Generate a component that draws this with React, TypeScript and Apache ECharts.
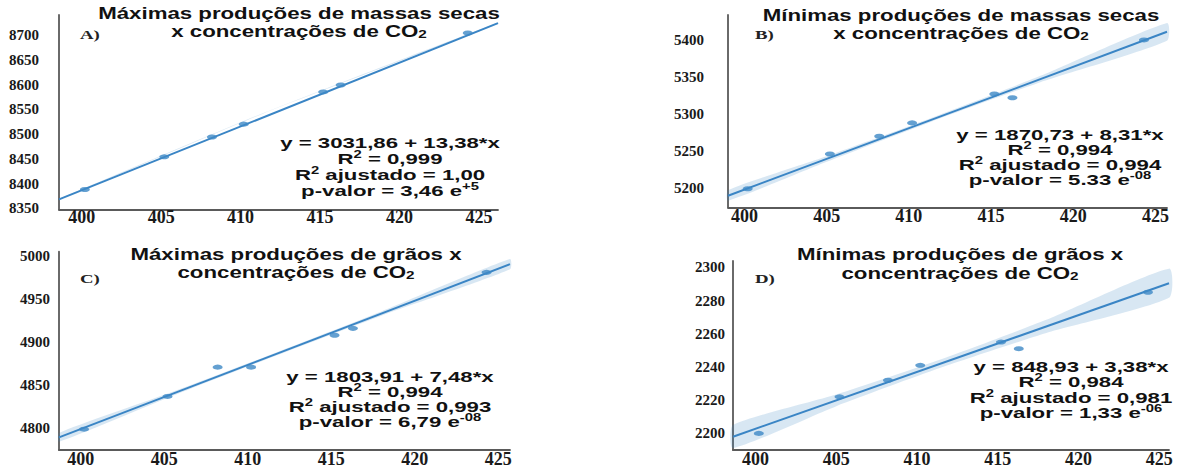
import React, { useEffect, useRef } from "react";
import * as echarts from "echarts";

// ---------- data ----------
const co2 = [400.2, 405.2, 408.2, 410.2, 415.2, 416.3, 424.3];

const massaSecaMax = [8388, 8454, 8494, 8520, 8585, 8599, 8704];
const massaSecaMin = [5199, 5246, 5270, 5288, 5327, 5322, 5400];
const graosMax = [4799, 4837, 4871, 4871, 4908, 4916, 4981];
const graosMin = [2200, 2222, 2232, 2241, 2255, 2251, 2285];

// fitted regression lines (end points)
const fitXA = [398.57, 426.2];
const fitYA = [8368, 8724];
const fitXB = [399.0, 425.7];
const fitYB = [5189.6, 5411];
const fitXC = [398.7, 425.7];
const fitYC = [4789.4, 4990.5];
const fitXD = [398.6, 425.6];
const fitYD = [2198, 2290.4];

// confidence bands
const bandXA = [398.57, 411.4, 426.2];
const bandLoA = [8367, 8541, 8722.5];
const bandHiA = [8369, 8542, 8725.5];
const bandXB = [399.0, 405, 411.4, 418, 425.7];
const bandLoB = [5183, 5235.5, 5290, 5343, 5399];
const bandHiB = [5197, 5243, 5295, 5351.5, 5423];
const bandXC = [398.7, 405, 411.4, 418, 425.7];
const bandLoC = [4784.5, 4833.8, 4882.2, 4930.7, 4984.5];
const bandHiC = [4794.5, 4838.8, 4885.8, 4935.7, 4996.5];
const bandXD = [398.6, 405, 411.4, 418, 425.6];
const bandLoD = [2191.2, 2216.4, 2239.3, 2260.4, 2281.6];
const bandHiD = [2205, 2223.4, 2244.3, 2268.4, 2299.2];

// texts ({sup|...} marks a superscript, {sub|...} a subscript)
const titlesA = ["Máximas produções de massas secas", "x concentrações de CO{sub|2}"];
const titlesB = ["Mínimas produções de massas secas", "x concentrações de CO{sub|2}"];
const titlesC = ["Máximas produções de grãos x", "concentrações de CO{sub|2}"];
const titlesD = ["Mínimas produções de grãos x", "concentrações de CO{sub|2}"];

const annA = ["y = 3031,86 + 13,38*x", "R{sup|2} = 0,999", "R{sup|2} ajustado = 1,00", "p-valor = 3,46 e{sup|+5}"];
const annB = ["y = 1870,73 + 8,31*x", "R{sup|2} = 0,994", "R{sup|2} ajustado = 0,994", "p-valor = 5.33 e{sup|-08}"];
const annC = ["y = 1803,91 + 7,48*x", "R{sup|2} = 0,994", "R{sup|2} ajustado = 0,993", "p-valor = 6,79 e{sup|-08}"];
const annD = ["y = 848,93 + 3,38*x", "R{sup|2} = 0,984", "R{sup|2} ajustado = 0,981", "p-valor = 1,33 e{sup|-06}"];

const letters = ["A)", "B)", "C)", "D)"];

// ---------- styles / layout ----------
const SANS = "Liberation Sans";
const SERIF = "Liberation Serif";
const LINE_COLOR = "#3a85c5";
const POINT_COLOR = "#3d88c6";
const BAND_COLOR = "rgba(58,133,197,0.2)";
const AXIS_COLOR = "#5a5a5a";

const panels = [
  {
    grid: { left: 59, top: 15, width: 439, height: 194.5 },
    x: [398.57, 426.2], y: [8347.6, 8740.4], yStep: 50, ySplit: 8,
    yMargin: 20, xMargin: -2,
    values: massaSecaMax, fitX: fitXA, fitY: fitYA, bx: bandXA, bl: bandLoA, bh: bandHiA,
    titles: titlesA, titleX: 299, titleY: [13.5, 31],
    ann: annA, annX: 390, annY: 143.3, annGap: 15.8,
    letterPos: [80, 35],
  },
  {
    grid: { left: 728, top: 15, width: 439, height: 192.3 },
    x: [399.0, 425.7], y: [5174, 5433.7], yStep: 50, ySplit: 5,
    yMargin: 24, xMargin: 0,
    values: massaSecaMin, fitX: fitXB, fitY: fitYB, bx: bandXB, bl: bandLoB, bh: bandHiB,
    titles: titlesB, titleX: 961, titleY: [15.5, 33],
    ann: annB, annX: 1060, annY: 135, annGap: 15,
    letterPos: [755, 35],
  },
  {
    grid: { left: 59, top: 251.7, width: 451, height: 201 },
    x: [398.7, 425.7], y: [4774.8, 5005], yStep: 50, ySplit: 5,
    yMargin: 9, xMargin: 0,
    values: graosMax, fitX: fitXC, fitY: fitYC, bx: bandXC, bl: bandLoC, bh: bandHiC,
    titles: titlesC, titleX: 296, titleY: [254.5, 272.2],
    ann: annC, annX: 390, annY: 376.7, annGap: 15,
    letterPos: [80, 279.3],
  },
  {
    grid: { left: 733, top: 261, width: 436, height: 190.7 },
    x: [398.6, 425.6], y: [2190, 2303.8], yStep: 20, ySplit: 6,
    yMargin: 8, xMargin: 0,
    values: graosMin, fitX: fitXD, fitY: fitYD, bx: bandXD, bl: bandLoD, bh: bandHiD,
    titles: titlesD, titleX: 960, titleY: [254.5, 272.8],
    ann: annD, annX: 1071, annY: 366.7, annGap: 15.5,
    letterPos: [755, 279.3],
  },
];

const isMultiple = (v: number, step: number) =>
  Math.abs(v / step - Math.round(v / step)) < 1e-6;

function richText(size: number) {
  const small = Math.round(size * 0.66);
  return {
    sup: {
      fontFamily: SANS,
      fontWeight: "bold",
      fontSize: small,
      lineHeight: small,
      verticalAlign: "top",
      fill: "#111",
    },
    sub: {
      fontFamily: SANS,
      fontWeight: "bold",
      fontSize: small,
      lineHeight: small,
      verticalAlign: "bottom",
      fill: "#111",
    },
  };
}

function tickLabel(step: number, size: number, margin: number) {
  return {
    margin,
    fontFamily: SERIF,
    fontWeight: "bold",
    fontSize: size,
    color: "#1a1a1a",
    formatter: (v: number) => (isMultiple(v, step) ? String(Math.round(v)) : ""),
  };
}

function buildOption() {
  const grid: any[] = [];
  const xAxis: any[] = [];
  const yAxis: any[] = [];
  const series: any[] = [];
  const graphic: any[] = [];

  panels.forEach((p, i) => {
    grid.push({ ...p.grid, containLabel: false });
    xAxis.push({
      type: "value",
      gridIndex: i,
      min: p.x[0],
      max: p.x[1],
      splitNumber: 5,
      minInterval: 5,
      maxInterval: 5,
      axisLine: { show: true, onZero: false, lineStyle: { color: AXIS_COLOR, width: 1.8 } },
      axisTick: { show: false },
      splitLine: { show: false },
      axisLabel: tickLabel(5, 18, p.xMargin),
    });
    yAxis.push({
      type: "value",
      gridIndex: i,
      min: p.y[0],
      max: p.y[1],
      splitNumber: p.ySplit,
      minInterval: p.yStep,
      maxInterval: p.yStep,
      axisLine: { show: true, onZero: false, lineStyle: { color: AXIS_COLOR, width: 1.8 } },
      axisTick: { show: false },
      splitLine: { show: false },
      axisLabel: tickLabel(p.yStep, 15, p.yMargin),
    });

    const bx = p.bx, bl = p.bl, bh = p.bh;
    series.push({
      type: "custom",
      xAxisIndex: i,
      yAxisIndex: i,
      silent: true,
      z: 1,
      encode: { x: 0, y: [1, 2] },
      data: bx.map((x, k) => [x, bl[k], bh[k]]),
      renderItem: (params: any, api: any) => {
        if (params.dataIndex !== 0) return null;
        const upper = bx.map((x, k) => api.coord([x, bh[k]]));
        const lower = bx.map((x, k) => api.coord([x, bl[k]])).reverse();
        return {
          type: "polygon",
          shape: { points: upper.concat(lower), smooth: 0.2 },
          style: { fill: BAND_COLOR, stroke: "none" },
        };
      },
    });
    series.push({
      type: "line",
      xAxisIndex: i,
      yAxisIndex: i,
      z: 2,
      showSymbol: false,
      silent: true,
      data: p.fitX.map((x, k) => [x, p.fitY[k]]),
      lineStyle: { color: LINE_COLOR, width: 2 },
    });
    series.push({
      type: "scatter",
      xAxisIndex: i,
      yAxisIndex: i,
      z: 3,
      symbol: "circle",
      symbolSize: [10, 5],
      itemStyle: { color: POINT_COLOR },
      data: co2.map((x, k) => [x, p.values[k]]),
    });

    // titles
    p.titles.forEach((t, k) => {
      graphic.push({
        type: "text",
        x: p.titleX,
        y: p.titleY[k],
        scaleX: 1.39,
        z: 10,
        style: {
          text: t,
          fontFamily: SANS,
          fontWeight: "bold",
          fontSize: 16,
          lineHeight: 18,
          fill: "#111",
          align: "center",
          verticalAlign: "middle",
          rich: richText(16),
        },
      });
    });
    // annotation
    p.ann.forEach((t, k) => {
      graphic.push({
        type: "text",
        x: p.annX,
        y: p.annY + k * p.annGap,
        scaleX: 1.48,
        z: 10,
        style: {
          text: t,
          fontFamily: SANS,
          fontWeight: "bold",
          fontSize: 15,
          lineHeight: 18,
          fill: "#111",
          align: "center",
          verticalAlign: "middle",
          rich: richText(15),
        },
      });
    });
    // panel letter
    graphic.push({
      type: "text",
      x: p.letterPos[0],
      y: p.letterPos[1],
      scaleX: 1.45,
      z: 10,
      style: {
        text: letters[i],
        fontFamily: SERIF,
        fontWeight: "bold",
        fontSize: 13,
        fill: "#222",
        align: "left",
        verticalAlign: "middle",
      },
    });
  });

  return {
    animation: false,
    backgroundColor: "#ffffff",
    grid,
    xAxis,
    yAxis,
    series,
    graphic,
  };
}

export default function App() {
  const ref = useRef<HTMLDivElement>(null);
  useEffect(() => {
    if (!ref.current) return;
    const chart = echarts.init(ref.current, undefined, { renderer: "svg" });
    chart.setOption(buildOption() as any);
    return () => chart.dispose();
  }, []);
  return (
    <div
      ref={ref}
      style={{ position: "fixed", left: 0, top: 0, width: 1177, height: 468, background: "#fff" }}
    />
  );
}
